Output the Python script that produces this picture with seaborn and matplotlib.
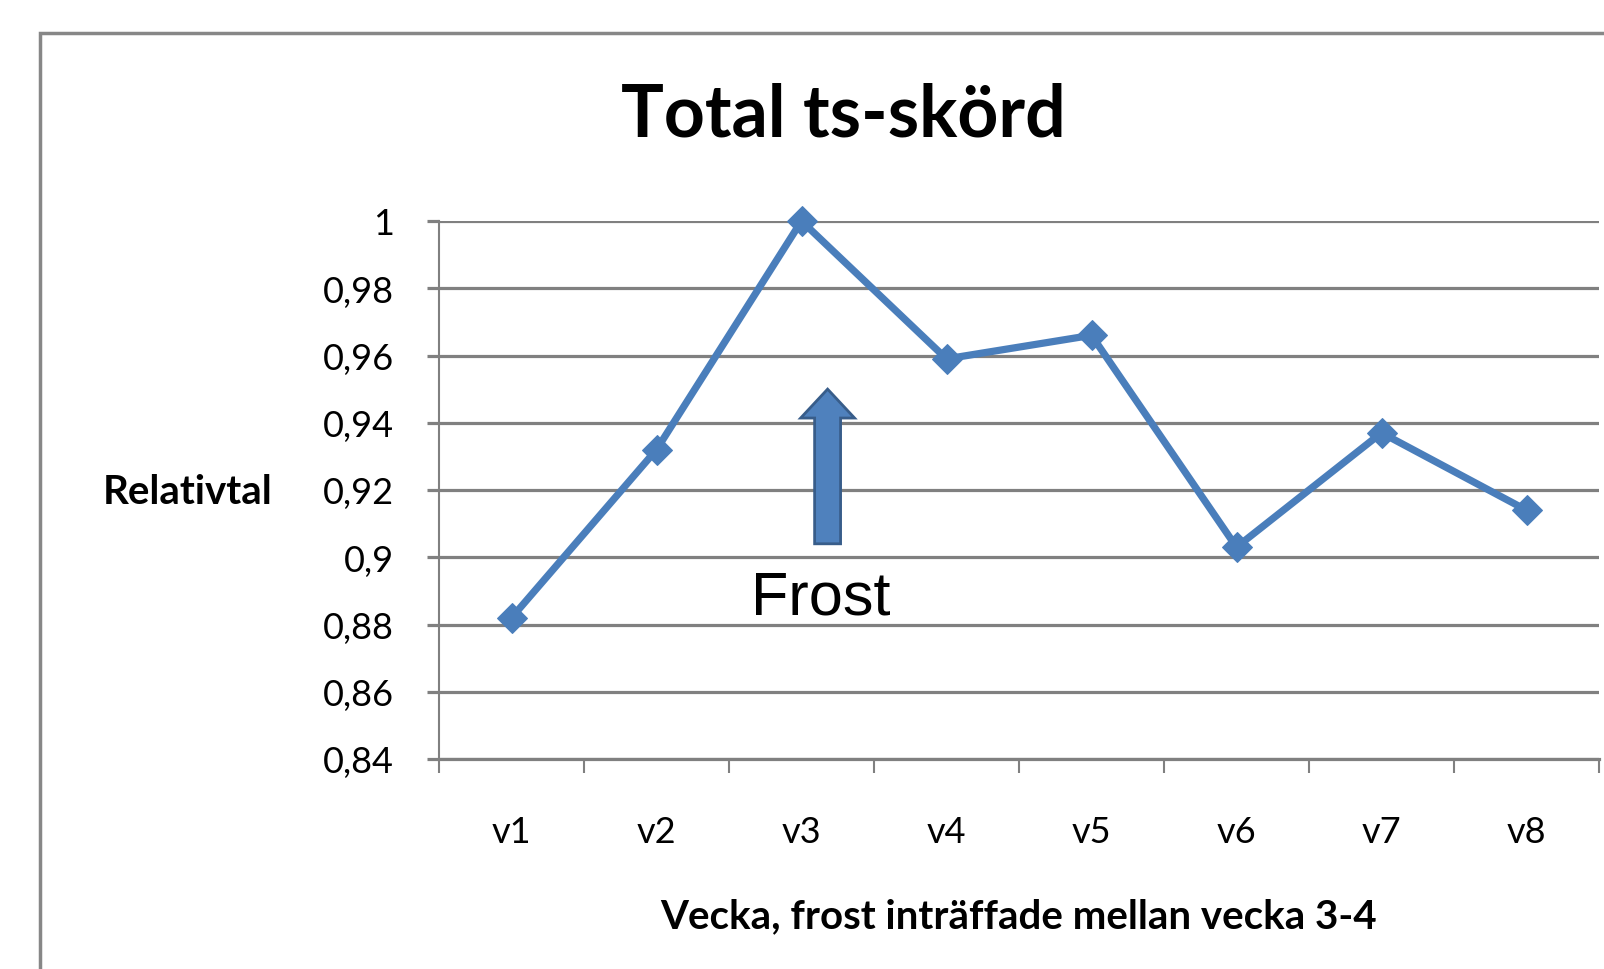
import numpy as np
import pandas as pd
import seaborn as sns
import matplotlib.pyplot as plt
from matplotlib.patches import Rectangle, FancyArrow
from matplotlib.ticker import FixedLocator, FuncFormatter

# data
weeks = ["v1", "v2", "v3", "v4", "v5", "v6", "v7", "v8"]
relativtal = [0.882, 0.932, 1.000, 0.959, 0.966, 0.903, 0.937, 0.914]
y_ticks = [0.84, 0.86, 0.88, 0.90, 0.92, 0.94, 0.96, 0.98, 1.00]

df = pd.DataFrame({"Vecka": weeks, "Relativtal": relativtal})

sns.set_style("white")
plt.rcParams["font.family"] = ["Lato", "DejaVu Sans"]
plt.rcParams["text.color"] = "black"

fig = plt.figure(figsize=(16.04, 9.70), dpi=100)
ax = fig.add_axes([439 / 1604, 1 - 760 / 970, 1160 / 1604, (760 - 222) / 970])

line_col = "#4A7EBB"
sns.lineplot(data=df, x="Vecka", y="Relativtal", ax=ax, color=line_col,
             linewidth=5.2, marker="D", markersize=15, markeredgecolor=line_col,
             clip_on=False, zorder=5)

ax.set_xlim(-0.5, 7.5)
ax.set_ylim(0.84, 1.0)

# grid + axes styling
grid_col = "#808080"
ax.yaxis.set_major_locator(FixedLocator(y_ticks))
ax.yaxis.set_major_formatter(FuncFormatter(lambda v, p: ("%g" % round(v, 2)).replace(".", ",")))
ax.grid(axis="y", color=grid_col, linewidth=2.3)
ax.grid(axis="x", visible=False)
for s in ["top", "right"]:
    ax.spines[s].set_visible(False)
ax.spines["left"].set_color(grid_col)
ax.spines["left"].set_linewidth(1.5)
ax.spines["bottom"].set_color(grid_col)
ax.spines["bottom"].set_linewidth(2.3)
ax.tick_params(axis="y", direction="out", length=8.6, width=2.3, color=grid_col,
               pad=24, labelsize=26, left=True, labelcolor="black")
ax.set_xticks(np.arange(-0.5, 8, 1), minor=True)
ax.tick_params(axis="x", which="minor", direction="out", length=10, width=1.5,
               color=grid_col, bottom=True)
ax.tick_params(axis="x", which="major", length=0, pad=40, labelsize=26,
               labelcolor="black")

ax.set_xlabel("Vecka, frost inträffade mellan vecka 3-4", fontsize=29,
              fontweight="bold", labelpad=36, color="black")
ax.set_ylabel("")
fig.text(188 / 1604, 1 - 493 / 970, "Relativtal", fontsize=29, fontweight="bold",
         ha="center", va="center")

# title
fig.text(843 / 1604, 1 - 116 / 970, "Total ts-skörd", fontsize=51.5,
         fontweight="bold", ha="center", va="center")

# frost arrow and label
arr = FancyArrow(2.18, 0.904, 0, 0.046, width=0.179, head_width=0.372,
                 head_length=0.0086, length_includes_head=True,
                 facecolor="#4F81BD", edgecolor="#385D8A", linewidth=2, zorder=4)
ax.add_patch(arr)
ax.text(2.13, 0.888, "Frost", fontsize=44, ha="center", va="center",
        family=["Liberation Sans", "DejaVu Sans"], zorder=6)

# chart frame
fig.patches.append(Rectangle((40 / 1604, -0.1), 1.2, 1.1 - 34 / 970,
                             transform=fig.transFigure, fill=False,
                             edgecolor="#878787", linewidth=2.5))

fig.savefig("out.png", dpi=100)
